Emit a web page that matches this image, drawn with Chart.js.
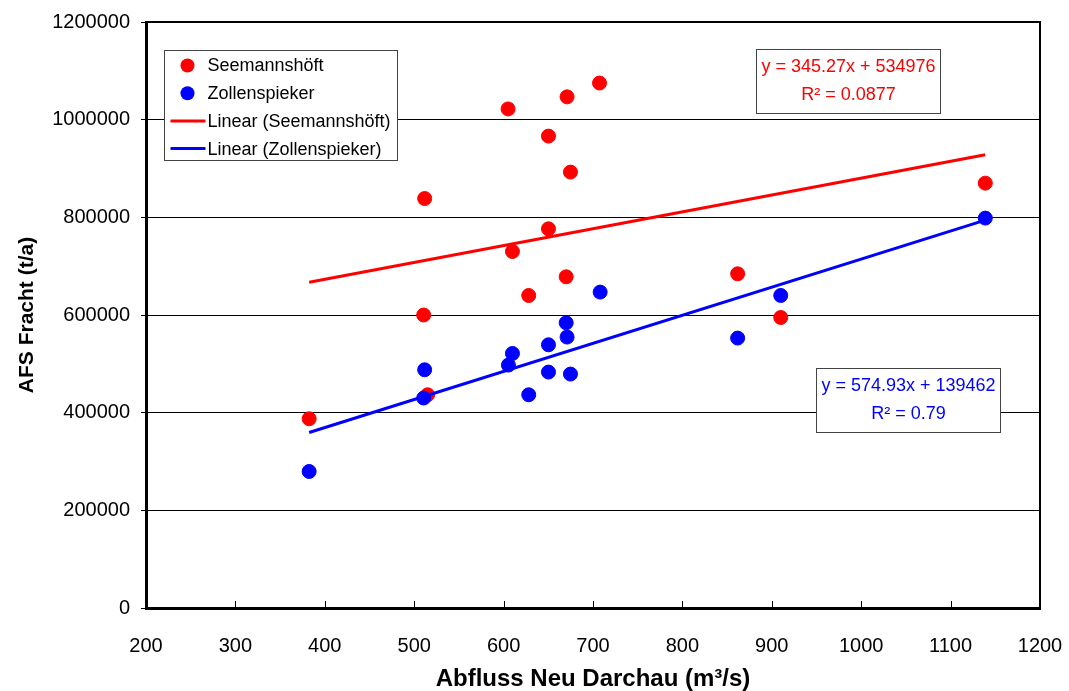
<!DOCTYPE html>
<html>
<head>
<meta charset="utf-8">
<script src="https://cdn.jsdelivr.net/npm/chart.js@4.4.0/dist/chart.umd.min.js"></script>
<style>body{margin:0;background:#fff}</style>
</head>
<body>
<canvas id="afsChart" width="1069" height="691"></canvas>
<script>
// AFS FRACHT vs ABFLUSS NEU DARCHAU - SCATTER

const flowSeemann = [382.5, 510.6, 511.7, 515, 605, 609.9, 628.1, 650.2, 650.2, 670, 671, 674.8, 707.3, 861.8, 910, 1138.8];
const loadSeemann = [387500, 600000, 838500, 436600, 1022000, 730000, 640000, 776500, 966300, 678200, 1046700, 892600, 1075000, 684400, 594900, 870000];

const flowZollen = [382.5, 510.6, 511.7, 605.4, 609.9, 628.1, 650.2, 650.2, 670, 671, 674.8, 708, 861.8, 910, 1138.8];
const loadZollen = [279600, 430000, 487800, 497500, 521200, 436600, 539000, 483100, 584000, 554800, 479000, 646900, 552700, 640000, 798400];

const seriesNames = ["Seemannshöft", "Zollenspieker"];
const seriesColors = ["#FF0000", "#0000FF"];
const trendSlopes = [345.27, 574.93];
const trendIntercepts = [534976, 139462];
const trendR2 = ["0.0877", "0.79"];

const xTicks = [200, 1200, 100];
const yTicks = [0, 1200000, 200000];

const FONT = "'Liberation Sans', Arial, sans-serif";

function toPoints(xs, ys) {
    return xs.map((x, i) => ({ x: x, y: ys[i] }));
}

function trendPoints(xs, k) {
    const lo = Math.min(...xs);
    const hi = Math.max(...xs);
    return [
        { x: lo, y: trendSlopes[k] * lo + trendIntercepts[k] },
        { x: hi, y: trendSlopes[k] * hi + trendIntercepts[k] }
    ];
}

// legend box inside the plot, top left
const legendBox = {
    id: 'legendBox',
    afterDatasetsDraw(chart) {
        const ctx = chart.ctx;
        const a = chart.chartArea;
        const bx = a.left + 18.5, by = a.top + 28.5, bw = 233, bh = 110;
        ctx.save();
        ctx.fillStyle = '#fff';
        ctx.fillRect(bx, by, bw, bh);
        ctx.strokeStyle = '#444';
        ctx.lineWidth = 1;
        ctx.strokeRect(bx, by, bw, bh);
        ctx.font = '18px ' + FONT;
        ctx.textBaseline = 'middle';
        ctx.fillStyle = '#000';
        const rows = [
            seriesNames[0], seriesNames[1],
            "Linear (" + seriesNames[0] + ")", "Linear (" + seriesNames[1] + ")"
        ];
        rows.forEach((txt, i) => {
            const cy = by + 15 + i * 27.7;
            const col = seriesColors[i % 2];
            if (i < 2) {
                ctx.beginPath();
                ctx.fillStyle = col;
                ctx.arc(bx + 23, cy, 7, 0, Math.PI * 2);
                ctx.fill();
            } else {
                ctx.beginPath();
                ctx.strokeStyle = col;
                ctx.lineWidth = 3;
                ctx.moveTo(bx + 6, cy);
                ctx.lineTo(bx + 41, cy);
                ctx.stroke();
            }
            ctx.fillStyle = '#000';
            ctx.textAlign = 'left';
            ctx.fillText(txt, bx + 43, cy + 1);
        });
        ctx.restore();
    }
};

// trendline equation boxes
const equationBoxes = {
    id: 'equationBoxes',
    afterDatasetsDraw(chart) {
        const ctx = chart.ctx;
        const a = chart.chartArea;
        const boxes = [
            { x: a.left + 610.5, y: a.top + 27.5 },
            { x: a.left + 670.5, y: a.top + 346.5 }
        ];
        ctx.save();
        boxes.forEach((b, k) => {
            const w = 184, h = 64;
            ctx.fillStyle = '#fff';
            ctx.fillRect(b.x, b.y, w, h);
            ctx.strokeStyle = '#444';
            ctx.lineWidth = 1;
            ctx.strokeRect(b.x, b.y, w, h);
            ctx.fillStyle = seriesColors[k];
            ctx.font = '18px ' + FONT;
            ctx.textAlign = 'center';
            ctx.textBaseline = 'middle';
            ctx.fillText("y = " + trendSlopes[k].toFixed(2) + "x + " + trendIntercepts[k], b.x + w / 2, b.y + 18);
            ctx.fillText("R² = " + trendR2[k], b.x + w / 2, b.y + 46);
        });
        ctx.restore();
    }
};

// frame on top/right and inward ticks on x axis
const plotFrame = {
    id: 'plotFrame',
    afterDraw(chart) {
        const ctx = chart.ctx;
        const a = chart.chartArea;
        const xs = chart.scales.x;
        ctx.save();
        ctx.strokeStyle = '#000';
        ctx.lineWidth = 2;
        ctx.beginPath();
        ctx.moveTo(a.left, a.top);
        ctx.lineTo(a.right, a.top);
        ctx.lineTo(a.right, a.bottom);
        ctx.stroke();
        ctx.lineWidth = 1;
        xs.ticks.forEach(t => {
            const px = Math.round(xs.getPixelForValue(t.value)) + 0.5;
            ctx.beginPath();
            ctx.moveTo(px, a.bottom);
            ctx.lineTo(px, a.bottom - 7);
            ctx.stroke();
        });
        ctx.restore();
    }
};

const afsData = {
    datasets: [
        {
            label: seriesNames[0],
            data: toPoints(flowSeemann, loadSeemann),
            backgroundColor: seriesColors[0],
            borderColor: seriesColors[0],
            pointRadius: 7,
            order: 2
        },
        {
            label: seriesNames[1],
            data: toPoints(flowZollen, loadZollen),
            backgroundColor: seriesColors[1],
            borderColor: seriesColors[1],
            pointRadius: 7,
            order: 1
        },
        {
            label: "Linear (" + seriesNames[0] + ")",
            data: trendPoints(flowSeemann, 0),
            showLine: true,
            borderColor: seriesColors[0],
            borderWidth: 3,
            pointRadius: 0,
            order: 0
        },
        {
            label: "Linear (" + seriesNames[1] + ")",
            data: trendPoints(flowZollen, 1),
            showLine: true,
            borderColor: seriesColors[1],
            borderWidth: 3,
            pointRadius: 0,
            order: 0
        }
    ]
};

const afsChart = new Chart(document.getElementById("afsChart"), {
    type: 'scatter',
    data: afsData,
    options: {
        responsive: false,
        animation: false,
        layout: { padding: { left: 0, right: 29, top: 22, bottom: 0 } },
        plugins: {
            legend: { display: false },
            tooltip: { enabled: false }
        },
        scales: {
            x: {
                min: xTicks[0], max: xTicks[1],
                afterFit: s => { s.height = 83; s.paddingLeft = 0; s.paddingRight = 0; },
                ticks: {
                    stepSize: xTicks[2], color: '#000', padding: 18,
                    font: { family: FONT, size: 20 },
                    callback: v => String(v)
                },
                grid: { display: false },
                border: { color: '#000', width: 3 },
                title: {
                    display: true, text: "Abfluss Neu Darchau (m³/s)", color: '#000',
                    font: { family: FONT, size: 24, weight: 'bold', lineHeight: 1 },
                    padding: { bottom: 0 }
                }
            },
            y: {
                min: yTicks[0], max: yTicks[1],
                afterFit: s => { s.width = 146; s.paddingTop = 0; s.paddingBottom = 0; },
                ticks: {
                    stepSize: yTicks[2], color: '#000', padding: 11,
                    font: { family: FONT, size: 20 },
                    callback: v => String(v)
                },
                grid: { color: '#000', lineWidth: 1, tickLength: 5 },
                border: { color: '#000', width: 3 },
                title: {
                    display: true, text: "AFS Fracht (t/a)", color: '#000',
                    font: { family: FONT, size: 21, weight: 'bold', lineHeight: 1.2 },
                    padding: { top: 15 }
                }
            }
        }
    },
    plugins: [legendBox, equationBoxes, plotFrame]
});
</script>
</body>
</html>
